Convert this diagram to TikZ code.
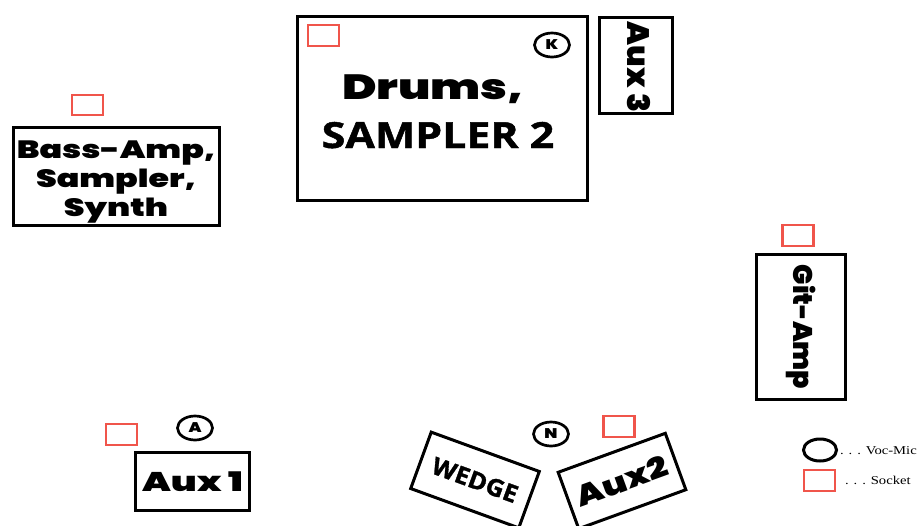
\documentclass[tikz,border=0pt]{standalone}
\usepackage{fontspec}
\usepackage{graphicx}
\setmainfont{Liberation Serif}
\newfontfamily\heavy{Poppins Black}
\newfontfamily\osansb{Open Sans}[FakeBold=1.2]
\usetikzlibrary{shapes.geometric}
\definecolor{sockred}{RGB}{240,85,75}
\newcommand{\stretchx}[2]{\scalebox{#1}[1]{#2}}
\begin{document}
\begin{tikzpicture}[x=1pt,y=-1pt,
  box/.style={draw=black, line width=3pt, inner sep=0pt, align=center},
  sock/.style={draw=sockred, line width=2.7pt, minimum width=31pt, minimum height=21pt, inner sep=0pt},
  mic/.style={draw=black, ellipse, line width=2.7pt, minimum width=35pt, minimum height=24pt, inner sep=0pt, font=\heavy\fontsize{14}{14}\selectfont},
  heavytxt/.style={font=\heavy\fontsize{27}{29}\selectfont},
  legtxt/.style={font=\fontsize{12}{12}\selectfont, anchor=base west, inner sep=0pt}
]
\useasboundingbox (0,0) rectangle (917,525);
\fill[white] (0,0) rectangle (917,525);

% Drums
\node[box, minimum width=290pt, minimum height=184pt] (drums) at (442,108) {};
\node[anchor=base, inner sep=0pt, font=\heavy\fontsize{35}{35}\selectfont] (drumsA) at (433,99) {\stretchx{1.33}{Drums,}};
\node[anchor=base, inner sep=0pt, font=\osansb\bfseries\fontsize{36}{36}\selectfont] (drumsB) at (438,148) {\stretchx{1.19}{SAMPLER 2}};
\node[sock] (sockD) at (323.5,35.5) {};
\node[mic] (micK) at (552,45) {\stretchx{1.2}{K}};

% Aux 3
\node[box, rotate=-90, minimum width=96pt, minimum height=73pt] (aux3) at (636,65.5) {};
\node[rotate=-90, inner sep=0pt, font=\heavy\fontsize{31}{31}\selectfont] (aux3txt) at (639,67) {Aux 3};

% Bass-Amp
\node[box, minimum width=206pt, minimum height=98pt] (bass) at (116.5,176.5) {};
\node[inner sep=0pt, font=\heavy\fontsize{25}{29}\selectfont] (basstxt) at (116,182) {\stretchx{1.33}{\begin{tabular}{@{}c@{}}Bass-Amp,\\Sampler,\\Synth\end{tabular}}};
\node[sock, minimum height=20pt] (sockB) at (87.5,105) {};

% Git-Amp
\node[box, rotate=-90, minimum width=145pt, minimum height=89pt, heavytxt] (git) at (801,327) {Git-Amp};
\node[sock] (sockG) at (798,235.5) {};

% Aux 1
\node[box, minimum width=114pt, minimum height=58pt, heavytxt] (aux1) at (192.5,481.5) {\stretchx{1.38}{Aux 1}};
\node[sock] (sockA) at (121.5,434.5) {};
\node[mic] (micA) at (195,428) {\stretchx{1.2}{A}};

% Wedge
\node[box, rotate=-20, minimum width=115pt, minimum height=60pt, font=\osansb\bfseries\fontsize{24}{24}\selectfont] (wedge) at (475,480) {\stretchx{1.05}{WEDGE}};

% Aux 2
\node[box, rotate=20, minimum width=114pt, minimum height=60pt, font=\heavy\fontsize{29}{29}\selectfont] (aux2) at (622,481) {\stretchx{1.22}{Aux2}};
\node[sock] (sockN) at (619,426.5) {};
\node[mic] (micN) at (551,434) {\stretchx{1.2}{N}};

% Legend
\node[draw=black, ellipse, line width=3pt, minimum width=33pt, minimum height=22pt, inner sep=0pt] (legmic) at (820,450) {};
\node[legtxt] (legmictxt) at (840,454) {\stretchx{1.22}{.\,\,.\,\,.\,\,Voc-Mic}};
\node[sock, minimum width=31pt, minimum height=21pt] (legsock) at (819.5,480.5) {};
\node[legtxt] (legsocktxt) at (845,484) {\stretchx{1.22}{.\,\,.\,\,.\,\,Socket}};
\end{tikzpicture}
\end{document}
